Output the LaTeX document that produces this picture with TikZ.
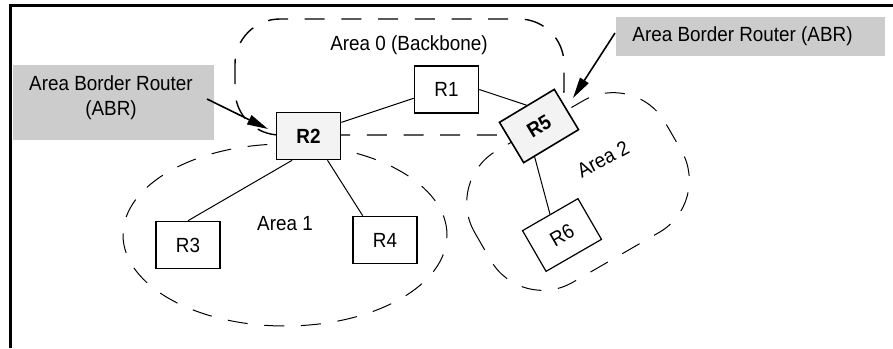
\documentclass[tikz,border=0pt]{standalone}
\usepackage{fontspec}
\setmainfont{Liberation Sans}[FakeStretch=0.92]
\usetikzlibrary{arrows.meta,calc}

\definecolor{calloutgray}{RGB}{204,204,204}
\definecolor{abrfill}{RGB}{243,243,243}

\begin{document}
\begin{tikzpicture}[x=1pt,y=-1pt,
  font=\fontsize{20.5}{25}\selectfont,
  router/.style={draw, line width=1.6pt, fill=white, minimum width=64pt,
    minimum height=47pt, inner sep=0pt},
  abr/.style={router, fill=abrfill, font=\fontsize{20.5}{25}\selectfont\bfseries},
  area/.style={dash pattern=on 20pt off 16.7pt, line width=1pt},
  callout/.style={fill=calloutgray, inner sep=0pt},
  link/.style={line width=1pt},
  pointer/.style={line width=1.6pt, -{Triangle[length=21pt,width=10pt]}}
]
\useasboundingbox (0,0) rectangle (893,348);

% page frame (top and left rules only)
\draw[line width=3pt] (893,5) -- (10.5,5) -- (10.5,348);

% OSPF areas
\draw[area, line width=1.4pt, rounded corners=45pt] (235,19) rectangle (564,135);
\draw[area] (285,235) ellipse [x radius=162pt, y radius=91pt];
\begin{scope}[shift={(578,191.5)}, rotate=30]
  \draw[area, rounded corners=60pt] (-110,-76) rectangle (110,76);
\end{scope}

\node[anchor=base] (lbl0) at (409,50) {Area 0 (Backbone)};
\node[anchor=base] (lbl1) at (285,230) {Area 1};
\node[rotate=28] (lbl2) at (603,159) {Area 2};

% callouts
\node[callout, minimum width=201pt, minimum height=75pt] (abrL) at (113.5,102.5) {};
\node[inner sep=0pt, align=center] (abrLtxt) at (111,97.6) {Area Border Router\\(ABR)};
\node[callout, minimum width=269pt, minimum height=39pt] (abrR) at (750.5,36.5) {};
\node[anchor=base] (abrRtxt) at (742.5,41.7) {Area Border Router (ABR)};

% routers
\node[router] (R1) at (446.5,89.5) {R1};
\node[abr] (R2) at (308.5,136) {R2};
\node[router] (R3) at (188,245) {R3};
\node[router] (R4) at (385,240) {R4};
\node[abr, rotate=31] (R5) at (539,126) {R5};
\node[router, line width=1.2pt, rotate=30] (R6) at (562,235) {R6};

% links between routers
\draw[link] ($(R2.north east)!0.22!(R2.south east)$) -- ($(R1.north west)!0.68!(R1.south west)$);
\draw[link] (R1.east) -- (R5.north);
\draw[link] ($(R2.south west)!0.25!(R2.south east)$) -- (R3.north);
\draw[link] ($(R2.south west)!0.79!(R2.south east)$) -- ($(R4.north west)!0.16!(R4.north east)$);
\draw[link] ($(R5.south west)!0.2!(R5.south east)$) -- (R6.north);

% pointers from callouts
\coordinate (pL) at (207,99);
\coordinate (tL) at (268,129);
\coordinate (pR) at (615,33);
\coordinate (tR) at (573,98);
\draw[pointer] (pL) -- (tL);
\draw[pointer] (pR) -- (tR);
\end{tikzpicture}
\end{document}
